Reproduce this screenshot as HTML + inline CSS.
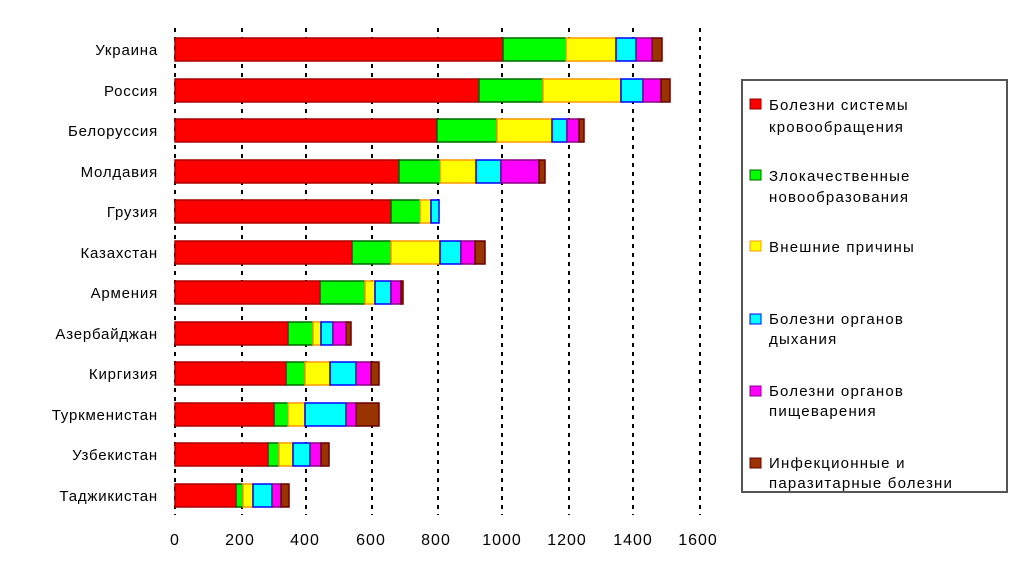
<!DOCTYPE html>
<html><head><meta charset="utf-8"><style>
body{margin:0;background:#fff;}
svg text{font-family:"Liberation Sans","DejaVu Sans",sans-serif;fill:#000;}
</style></head><body>
<svg width="1024" height="574" viewBox="0 0 1024 574" xmlns="http://www.w3.org/2000/svg">
<g stroke="#000" stroke-width="2" stroke-dasharray="4,5">
<line x1="175" y1="28" x2="175" y2="515"/>
<line x1="242" y1="28" x2="242" y2="515"/>
<line x1="306" y1="28" x2="306" y2="515"/>
<line x1="372" y1="28" x2="372" y2="515"/>
<line x1="438" y1="28" x2="438" y2="515"/>
<line x1="502" y1="28" x2="502" y2="515"/>
<line x1="569" y1="28" x2="569" y2="515"/>
<line x1="633" y1="28" x2="633" y2="515"/>
<line x1="700" y1="28" x2="700" y2="515"/>
</g>
<g id="bars" stroke-width="1.5"></g>
<g font-size="15" text-anchor="end" id="labels" letter-spacing="0.8"></g>
<g font-size="16" text-anchor="middle" letter-spacing="1">
<text x="175" y="545">0</text><text x="240" y="545">200</text><text x="305" y="545">400</text>
<text x="371" y="545">600</text><text x="436" y="545">800</text><text x="502" y="545">1000</text>
<text x="567" y="545">1200</text><text x="633" y="545">1400</text><text x="698" y="545">1600</text>
</g>
<rect x="742" y="80" width="265" height="412" fill="#fff" stroke="#555" stroke-width="2"/>
<g font-size="15" letter-spacing="1.2">
<rect x="750" y="99" width="11" height="10" fill="#f00" stroke="#800"/>
<text x="769" y="110">Болезни системы</text><text x="769" y="132">кровообращения</text>
<rect x="750" y="170" width="11" height="10" fill="#0f0" stroke="#060"/>
<text x="769" y="181">Злокачественные</text><text x="769" y="202">новообразования</text>
<rect x="750" y="241" width="11" height="10" fill="#ff0" stroke="#f90"/>
<text x="769" y="252">Внешние причины</text>
<rect x="750" y="314" width="11" height="10" fill="#0ff" stroke="#00f"/>
<text x="769" y="324">Болезни органов</text><text x="769" y="344">дыхания</text>
<rect x="750" y="386" width="11" height="10" fill="#f0f" stroke="#808"/>
<text x="769" y="396">Болезни органов</text><text x="769" y="416">пищеварения</text>
<rect x="750" y="458" width="11" height="10" fill="#930" stroke="#600"/>
<text x="769" y="468">Инфекционные и</text><text x="769" y="488">паразитарные болезни</text>
</g>
</svg>
<script>
var names=["Украина","Россия","Белоруссия","Молдавия","Грузия","Казахстан","Армения","Азербайджан","Киргизия","Туркменистан","Узбекистан","Таджикистан"];
var d=[[503,566,616,636,652,662],[479,543,621,643,661,670],[437,497,552,567,579,584],[399,440,476,501,539,545],[391,420,431,439,439,439],[352,391,440,461,475,485],[320,365,375,391,401,403],[288,313,321,333,346,351],[286,305,330,356,371,379],[274,288,305,346,356,379],[268,279,293,310,321,329],[236,243,253,272,281,289]];
var fill=["#f00","#0f0","#ff0","#0ff","#f0f","#930"],st=["#a00","#060","#f90","#00f","#808","#600"];
var ys=[38,79,119,160,200,241,281,322,362,403,443,484];
var ns="http://www.w3.org/2000/svg",g=document.getElementById("bars"),L=document.getElementById("labels");
for(var i=0;i<12;i++){var x=175;for(var j=0;j<6;j++){var e=d[i][j];if(e>x){var r=document.createElementNS(ns,"rect");r.setAttribute("x",x);r.setAttribute("y",ys[i]);r.setAttribute("width",e-x);r.setAttribute("height",23);r.setAttribute("fill",fill[j]);r.setAttribute("stroke",st[j]);g.appendChild(r);}x=e;}
var t=document.createElementNS(ns,"text");t.setAttribute("x",158);t.setAttribute("y",ys[i]+17);t.textContent=names[i];L.appendChild(t);}
</script>
</body></html>
